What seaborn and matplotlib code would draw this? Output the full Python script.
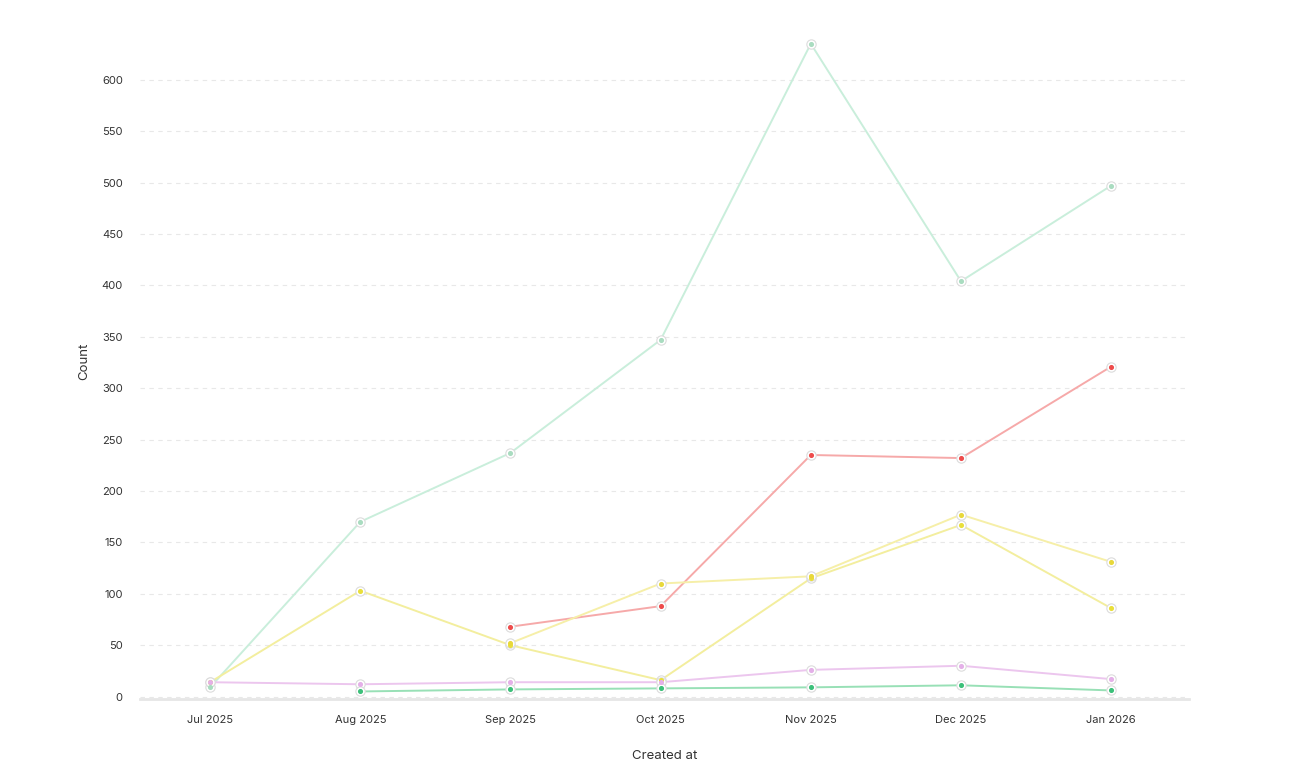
import matplotlib
matplotlib.use("Agg")
import matplotlib.pyplot as plt
import numpy as np
import pandas as pd
import seaborn as sns

months = ["Jul 2025", "Aug 2025", "Sep 2025", "Oct 2025", "Nov 2025", "Dec 2025", "Jan 2026"]
light_green = [9, 170, 237, 347, 635, 404, 497]
red = [None, None, 68, 88, 235, 232, 321]
yellow_a = [14, 103, 50, 16, 115, 167, 86]
yellow_b = [None, None, 52, 110, 117, 177, 131]
pink = [14, 12, 14, 14, 26, 30, 17]
green = [None, 5, 7, 8, 9, 11, 6]

series = [
    ("light_green", light_green, "#c9eedb", "#a9dcc0"),
    ("red", red, "#f6a9a9", "#ee4b4b"),
    ("yellow_a", yellow_a, "#f3ee9e", "#e9df3a"),
    ("yellow_b", yellow_b, "#f6efa8", "#e8d83a"),
    ("pink", pink, "#ecc6ee", "#e4b0e8"),
    ("green", green, "#98e0b6", "#3cc07a"),
]

sns.set_theme(style="white")
plt.rcParams["font.family"] = ["Inter", "DejaVu Sans"]

fig, ax = plt.subplots(figsize=(13.04, 7.72), dpi=100)
fig.subplots_adjust(left=0.107, right=0.912, top=0.97, bottom=0.095)

x = np.arange(len(months))
for name, vals, line_c, dot_c in series:
    df = pd.DataFrame({"x": x, "y": vals}).dropna()
    sns.lineplot(data=df, x="x", y="y", color=line_c, linewidth=1.4, ax=ax)
    ax.scatter(df["x"], df["y"], s=45, color="white", edgecolors="#dcdcdc", linewidths=0.8, zorder=3)
    ax.scatter(df["x"], df["y"], s=7, color=dot_c, zorder=4)

ax.set_xlim(-0.47, 6.52)
ax.set_ylim(-2, 655)
ax.set_xticks(x)
ax.set_xticklabels(months)
ax.set_yticks(range(0, 601, 50))
ax.tick_params(axis="both", labelsize=8, colors="#333333", length=0, pad=12)
ax.yaxis.grid(True, linestyle=(0, (4, 4)), color="#e8e8e8", linewidth=0.8)
for s in ["top", "right", "left"]:
    ax.spines[s].set_visible(False)
ax.spines["bottom"].set_color("#e6e6e6")
ax.spines["bottom"].set_linewidth(2)
ax.set_xlabel("Created at", fontsize=9.5, color="#333333", labelpad=18)
ax.set_ylabel("Count", fontsize=9.5, color="#333333", labelpad=8)

fig.savefig("out.png", dpi=100)
